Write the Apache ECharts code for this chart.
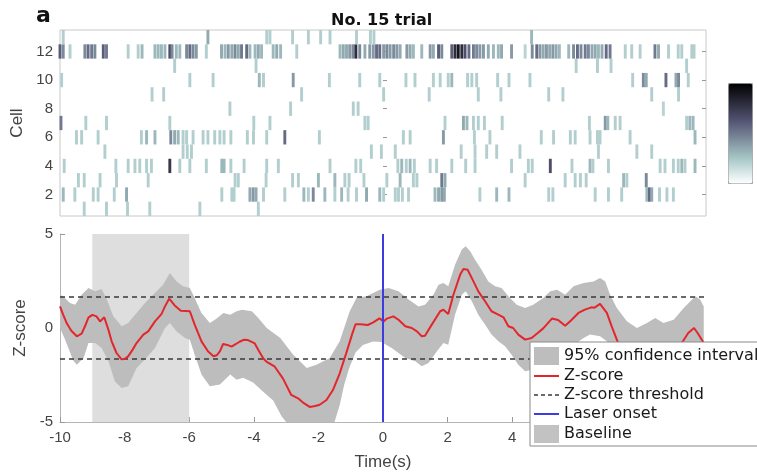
<!DOCTYPE html>
<html><head><meta charset="utf-8">
<script src="https://cdn.jsdelivr.net/npm/echarts@6/dist/echarts.min.js"></script>
<style>html,body{margin:0;padding:0;background:#fff}#c{width:757px;height:472px}</style>
</head><body><div id="c"></div>
<script>
// ---------- Raster (top panel): per cell, [time (s), normalised activity] ----------
const cell13 = [[-9.9,.22],[-5.42,.35],[-3.6,.22],[-3.5,.22],[-2.8,.22],[-2.31,.22],[-1.93,.22],[-1.64,.22],[-0.82,.22],[-0.39,.22],[-0.28,.22],[4.6,.3]];
const cell12 = [[-10.0,.6],[-9.9,.45],[-9.69,.22],[-9.23,.45],[-9.13,.55],[-9.02,.5],[-8.92,.45],[-8.66,.6],[-8.56,.5],
 [-7.89,.22],[-7.58,.22],[-7.46,.3],[-7.06,.3],[-6.96,.3],[-6.86,.3],[-6.75,.3],[-6.6,.65],[-6.53,.45],[-6.4,.3],[-6.29,.3],
 [-6.08,.45],[-5.98,.55],[-5.88,.45],[-5.78,.4],[-5.47,.22],[-5.0,.35],[-4.89,.3],[-4.79,.4],[-4.68,.35],[-4.58,.45],[-4.48,.35],
 [-4.38,.5],[-4.22,.55],[-4.12,.3],[-3.96,.3],[-3.86,.35],[-3.76,.3],[-3.4,.3],[-3.29,.35],[-3.17,.3],[-2.67,.22],
 [-1.33,.3],[-1.23,.35],[-1.13,.35],[-1.03,.4],[-0.93,.45],[-0.84,.8],[-0.72,.45],[-0.56,.35],[-0.41,.4],[-0.3,.4],[-0.2,.55],[-0.1,.55],
 [0.02,.4],[0.12,.45],[0.22,.4],[0.33,.45],[0.43,.4],[0.53,.35],[0.74,.4],[0.84,.35],[0.94,.3],[1.2,.3],[1.46,.4],[1.56,.35],
 [1.72,.6],[1.82,.45],[2.13,.6],[2.23,.8],[2.33,.9],[2.44,.8],[2.54,.65],[2.66,.55],[2.8,.5],[2.9,.45],[3.0,.4],[3.11,.4],
 [3.26,.35],[3.42,.3],[3.57,.3],[3.67,.35],[3.98,.4],[4.4,.2],[4.62,.45],[4.76,.55],[4.86,.4],
 [4.96,.35],[5.06,.4],[5.16,.35],[5.26,.4],[5.36,.35],[5.46,.3],[5.75,.3],[5.9,.45],[6.02,.55],[6.13,.45],[6.26,.5],[6.36,.45],
 [6.47,.35],[6.57,.35],[6.67,.3],[6.78,.35],[6.91,.55],[7.03,.5],[7.5,.22],[7.7,.22],[7.96,.22],[8.42,.5],[8.53,.35],[8.84,.22],
 [9.14,.22],[9.25,.22],[9.56,.22],[9.63,.22]];
const cell11 = [[-6.45,.22],[-3.93,.22],[5.98,.22],[6.64,.22],[7.06,.22],[9.4,.22]];
const cell10 = [[-9.95,.22],[-5.98,.22],[-5.26,.22],[-3.83,.3],[-3.7,.22],[-2.78,.4],[-1.66,.22],[-0.72,.22],[-0.1,.22],[0.71,.22],
 [0.99,.22],[1.56,.22],[1.77,.22],[2.02,.22],[2.13,.3],[2.62,.22],[2.75,.22],[2.9,.22],[3.55,.22],[3.9,.22],[4.55,.22],[7.73,.22],
 [8.06,.45],[8.15,.35],[8.76,.55],[9.07,.35],[9.15,.45],[9.45,.22]];
const cell9 = [[-7.15,.22],[-6.79,.22],[-2.52,.22],[0.02,.22],[1.43,.22],[2.95,.22],[3.65,.22],[5.13,.22],[5.57,.22],[8.32,.22],[9.15,.22]];
const cell8 = [[-4.74,.22],[-2.86,.22],[-0.92,.22],[-0.77,.22],[8.68,.2]];
const cell7 = [[-9.97,.5],[-9.2,.22],[-8.56,.22],[-6.6,.22],[-4.0,.22],[-3.5,.22],[-0.56,.22],[-0.46,.22],[1.92,.22],[2.49,.35],[2.6,.3],
 [2.8,.22],[2.95,.22],[3.14,.22],[3.69,.22],[6.39,.22],[6.88,.4],[6.96,.3],[7.19,.22],[7.34,.22],[9.4,.22],[9.5,.3],[9.6,.3]];
const cell6 = [[-9.49,.22],[-9.33,.22],[-8.82,.22],[-7.48,.22],[-7.32,.3],[-7.06,.3],[-6.57,.45],[-6.45,.35],[-6.34,.3],[-6.19,.22],
 [-6.08,.22],[-5.88,.22],[-5.57,.22],[-5.42,.22],[-5.21,.22],[-5.05,.22],[-4.92,.22],[-4.71,.22],[-4.2,.22],[-4.01,.22],[-3.6,.22],
 [-3.04,.55],[-1.97,.22],[0.63,.22],[0.84,.22],[1.87,.4],[2.83,.22],[3.31,.22],[4.9,.22],[5.28,.22],[5.8,.22],[5.95,.22],[6.41,.22],
 [6.64,.22],[6.72,.22],[7.65,.22],[9.66,.3]];
const cell5 = [[-8.61,.22],[-6.19,.22],[-6.06,.22],[-5.93,.22],[-0.36,.22],[-0.05,.22],[0.38,.22],[2.42,.22],[2.85,.22],[3.21,.22],
 [3.52,.22],[4.24,.22],[6.67,.22],[7.86,.22],[8.32,.22]];
const cell4 = [[-9.87,.22],[-8.27,.22],[-7.89,.22],[-7.68,.22],[-7.53,.22],[-7.32,.22],[-7.17,.22],[-6.6,.75],[-6.29,.22],[-5.98,.22],
 [-5.47,.22],[-4.99,.3],[-4.92,.3],[-4.71,.22],[-4.3,.22],[-3.6,.22],[-3.24,.22],[-1.64,.22],[-0.84,.22],[-0.69,.22],[0.46,.22],
 [0.58,.3],[0.72,.22],[0.84,.3],[0.97,.22],[1.46,.22],[1.66,.22],[2.13,.22],[2.56,.22],[2.85,.22],[3.98,.22],[4.5,.22],[4.62,.22],
 [5.18,.65],[5.85,.22],[6.41,.3],[6.5,.22],[6.98,.22],[8.58,.22],[8.73,.22],[8.99,.22],[9.14,.22],[9.25,.3],[9.35,.22],[9.66,.3]];
const cell3 = [[-9.43,.22],[-9.25,.22],[-8.76,.22],[-8.25,.22],[-7.27,.22],[-4.58,.22],[-4.48,.22],[-3.62,.22],[-2.8,.22],[-2.62,.22],
 [-2.0,.3],[-1.49,.3],[-1.18,.22],[-1.05,.22],[-0.59,.22],[0.12,.22],[0.53,.3],[0.94,.22],[1.05,.22],[1.82,.5],[1.92,.35],[4.4,.22],
 [5.64,.22],[5.95,.22],[6.11,.22],[6.29,.22],[7.45,.3],[7.55,.22],[8.15,.45]];
const cell2 = [[-9.9,.3],[-9.54,.22],[-8.97,.22],[-8.82,.22],[-8.32,.22],[-7.94,.35],[-4.99,.22],[-4.68,.22],[-4.61,.22],[-4.12,.35],
 [-4.02,.4],[-3.93,.35],[-3.7,.22],[-3.04,.22],[-2.45,.3],[-2.31,.22],[-2.16,.45],[-1.8,.3],[-1.49,.22],[-1.28,.3],[-1.08,.22],
 [-0.82,.22],[-0.51,.35],[-0.1,.3],[0.02,.22],[0.38,.22],[0.48,.22],[0.6,.22],[0.79,.22],[1.61,.3],[1.72,.35],[1.82,.4],[1.9,.35],
 [3.0,.22],[3.52,.3],[3.9,.3],[5.13,.22],[5.26,.22],[6.57,.22],[6.98,.22],[7.39,.22],[8.17,.3],[8.25,.55],[8.32,.35],[8.56,.22],
 [8.79,.22],[8.99,.22]];
const cell1 = [[-9.25,.22],[-8.56,.22],[-7.91,.22],[-7.22,.22],[-5.67,.22],[-3.86,.22]];
const cellRows = [cell1, cell2, cell3, cell4, cell5, cell6, cell7, cell8, cell9, cell10, cell11, cell12, cell13];
const cellTicks = [2, 4, 6, 8, 10, 12];

// ---------- Z-score panel ----------
const zScore = [[-10,1.15],[-9.9,0.7],[-9.79,0.25],[-9.65,-0.15],[-9.48,-0.44],[-9.33,-0.3],[-9.2,0.2],[-9.12,0.55],[-9.0,0.7],
 [-8.87,0.62],[-8.76,0.35],[-8.63,0.57],[-8.5,-0.1],[-8.4,-0.71],[-8.25,-1.33],[-8.1,-1.66],[-8.0,-1.65],[-7.89,-1.51],[-7.75,-1.15],
 [-7.63,-0.8],[-7.42,-0.35],[-7.27,-0.18],[-7.06,0.35],[-6.86,0.74],[-6.75,1.15],[-6.62,1.56],[-6.45,1.2],[-6.26,0.92],[-5.98,0.89],
 [-5.83,0.18],[-5.62,-0.71],[-5.42,-1.24],[-5.25,-1.5],[-5.15,-1.45],[-5.05,-1.24],[-4.95,-0.85],[-4.82,-0.9],[-4.69,-0.99],
 [-4.55,-0.85],[-4.44,-0.73],[-4.3,-0.62],[-4.18,-0.64],[-3.97,-0.82],[-3.85,-1.2],[-3.71,-1.61],[-3.61,-1.79],[-3.35,-2.06],
 [-3.1,-2.68],[-2.84,-3.56],[-2.63,-3.74],[-2.45,-4.0],[-2.27,-4.2],[-2.1,-4.15],[-1.96,-4.08],[-1.75,-3.83],[-1.55,-3.3],
 [-1.34,-2.41],[-1.14,-1.35],[-0.95,-0.3],[-0.85,0.2],[-0.7,0.2],[-0.47,0.16],[-0.3,0.3],[-0.11,0.51],[0.02,0.35],[0.12,0.5],
 [0.32,0.62],[0.48,0.44],[0.69,0.09],[0.89,0.0],[1.05,-0.18],[1.2,-0.44],[1.3,-0.41],[1.51,0.18],[1.77,0.89],[1.87,0.97],
 [2.02,0.74],[2.18,1.77],[2.39,2.84],[2.49,3.14],[2.62,3.1],[2.8,2.48],[2.95,1.95],[3.16,1.42],[3.36,0.89],[3.57,0.71],[3.73,0.57],
 [3.88,0.09],[4.03,0.0],[4.19,-0.35],[4.4,-0.62],[4.6,-0.53],[4.8,-0.25],[4.96,-0.02],[5.23,0.5],[5.42,0.43],[5.64,0.12],[5.82,0.4],
 [6.05,0.8],[6.25,0.98],[6.45,1.1],[6.55,1.08],[6.72,1.28],[6.93,0.8],[7.08,0.09],[7.29,-0.85],[7.5,-1.35],[8.0,-1.6],[8.5,-1.45],
 [9.0,-1.3],[9.25,-0.8],[9.45,-0.27],[9.63,0.0],[9.76,-0.32],[9.93,-0.8]];
const ciUpper = [[-10,1.8],[-9.85,1.6],[-9.69,1.33],[-9.53,1.24],[-9.33,1.77],[-9.12,2.13],[-8.91,1.95],[-8.71,2.07],[-8.55,1.51],
 [-8.35,0.62],[-8.09,0.09],[-7.89,0.27],[-7.63,0.8],[-7.37,1.33],[-7.06,1.86],[-6.81,2.3],[-6.6,2.93],[-6.39,2.48],[-6.19,2.22],
 [-5.98,2.13],[-5.83,1.6],[-5.62,0.8],[-5.36,0.27],[-5.15,0.5],[-4.94,0.8],[-4.73,0.71],[-4.53,0.89],[-4.37,0.97],[-4.06,0.89],
 [-3.86,0.53],[-3.6,0.0],[-3.18,-0.53],[-2.78,-1.42],[-2.36,-2.13],[-2.06,-1.95],[-1.65,-1.6],[-1.34,-0.71],[-1.03,0.89],[-0.82,1.6],
 [-0.51,1.69],[-0.1,2.04],[0.17,2.13],[0.48,1.95],[0.79,1.51],[1.1,1.15],[1.3,1.24],[1.56,1.77],[1.72,2.3],[1.87,2.39],[2.02,2.22],
 [2.23,3.37],[2.44,4.17],[2.56,4.35],[2.7,4.08],[2.85,3.63],[3.05,3.1],[3.26,2.48],[3.47,2.22],[3.67,2.13],[3.88,1.69],[4.14,1.24],
 [4.4,1.06],[4.65,1.24],[4.96,1.6],[5.18,1.95],[5.39,2.04],[5.64,1.77],[5.9,2.22],[6.21,2.39],[6.52,2.48],[6.72,2.66],[6.88,2.48],
 [7.03,1.77],[7.24,1.06],[7.55,0.36],[7.86,0.0],[8.17,0.27],[8.43,0.53],[8.68,0.27],[9.0,0.44],[9.31,1.06],[9.67,1.69],[9.82,1.51],
 [9.93,1.15]];
const ciLower = [[-10,0.0],[-9.87,-0.5],[-9.74,-1.06],[-9.6,-1.7],[-9.48,-1.95],[-9.27,-1.6],[-9.12,-0.8],[-8.91,-0.8],[-8.71,-1.06],
 [-8.5,-1.77],[-8.3,-2.84],[-8.09,-3.19],[-7.89,-3.1],[-7.63,-2.13],[-7.37,-1.68],[-7.06,-1.06],[-6.75,0.0],[-6.6,0.27],[-6.39,-0.18],
 [-6.13,-0.53],[-5.98,-0.62],[-5.83,-1.42],[-5.62,-2.48],[-5.36,-3.1],[-5.05,-3.0],[-4.73,-2.48],[-4.53,-2.75],[-4.33,-2.65],
 [-4.02,-2.9],[-3.71,-3.39],[-3.4,-3.85],[-3.14,-4.7],[-2.95,-5.1],[-2.6,-5.6],[-2.2,-5.9],[-1.8,-5.6],[-1.5,-5.0],[-1.34,-4.1],
 [-1.2,-3.0],[-1.04,-2.1],[-0.85,-1.3],[-0.62,-0.9],[-0.31,-0.72],[-0.05,-0.75],[0.27,-1.06],[0.69,-1.6],[1.0,-1.77],[1.2,-2.04],
 [1.41,-1.86],[1.67,-1.24],[1.87,-0.8],[2.02,-0.89],[2.23,0.71],[2.44,1.77],[2.56,1.95],[2.75,1.42],[2.95,0.71],[3.16,0.18],
 [3.36,-0.35],[3.57,-0.71],[3.78,-0.97],[3.98,-1.42],[4.19,-1.95],[4.4,-2.3],[4.7,-2.2],[5.0,-1.5],[5.5,-1.2],[5.9,-0.9],[6.21,-0.53],
 [6.41,-0.35],[6.72,-0.44],[6.93,-0.71],[7.15,-1.5],[7.4,-2.4],[8.0,-3.0],[8.5,-2.9],[9.0,-2.4],[9.4,-1.9],[9.7,-1.4],[9.93,-1.8]];
const zThreshold = [1.65, -1.65];
const baselineWindow = [-9, -6];
const laserOnset = 0;
const timeRange = [-10, 10];
const zRange = [-5, 5];

// colour map (reversed "bone")
const boneRev = ['#ffffff','#d3e3e3','#a7c7c7','#8ba1ab','#707a8f','#545474','#38384d','#1c1c27','#000000'];

const rasterData = [];
cellRows.forEach((row, i) => row.forEach(s => rasterData.push([s[0], i + 1, s[1]])));

const FONT = 'Liberation Sans, Arial, sans-serif';
const noSymbol = {color: 'rgba(0,0,0,0)', borderWidth: 0, opacity: 0};
const chart = echarts.init(document.getElementById('c'));
chart.setOption({
  animation: false,
  backgroundColor: '#fff',
  title: [
    {text: 'a', left: 31, top: 0, textStyle: {fontSize: 22, fontWeight: 'bold', color: '#111', fontFamily: 'DejaVu Sans'}},
    {text: 'No. 15 trial', left: 326, top: 8, textStyle: {fontSize: 16, fontWeight: 'bold', color: '#111', fontFamily: 'DejaVu Sans'}}
  ],
  grid: [
    {left: 60, top: 30, width: 646, height: 186, show: true, borderColor: '#c8c8c8', borderWidth: 1, backgroundColor: 'transparent'},
    {left: 60, top: 234, width: 646, height: 188}
  ],
  xAxis: [
    {gridIndex: 0, type: 'value', min: timeRange[0], max: timeRange[1], axisLine: {show: false}, axisTick: {show: false}, axisLabel: {show: false}, splitLine: {show: false}},
    {gridIndex: 1, type: 'value', min: timeRange[0], max: timeRange[1], interval: 2,
     axisLine: {show: true, onZero: false, lineStyle: {color: '#b5b5b5'}},
     axisTick: {inside: true, length: 5, lineStyle: {color: '#999'}},
     axisLabel: {margin: 8, fontSize: 15, color: '#444', fontFamily: FONT},
     splitLine: {show: false},
     name: 'Time(s)', nameLocation: 'middle', nameGap: 32, nameTextStyle: {fontSize: 17, color: '#444', fontFamily: FONT}}
  ],
  yAxis: [
    {gridIndex: 0, type: 'value', min: 0.5, max: 13.5, axisLine: {show: false},
     axisTick: {inside: true, length: 4, customValues: cellTicks, lineStyle: {color: '#999'}},
     axisLabel: {customValues: cellTicks, margin: 7, fontSize: 15, color: '#444', fontFamily: FONT},
     splitLine: {show: false},
     name: 'Cell', nameLocation: 'middle', nameGap: 31, nameTextStyle: {fontSize: 17, color: '#444', fontFamily: FONT}},
    {gridIndex: 0, type: 'value', position: 'right', min: 0.5, max: 13.5, axisLine: {show: false},
     axisTick: {inside: true, length: 4, customValues: cellTicks, lineStyle: {color: '#999'}},
     axisLabel: {show: false}, splitLine: {show: false}},
    {gridIndex: 1, type: 'value', min: zRange[0], max: zRange[1], interval: 5,
     axisLine: {show: true, onZero: false, lineStyle: {color: '#b5b5b5'}},
     axisTick: {inside: true, length: 5, lineStyle: {color: '#999'}},
     axisLabel: {margin: 7, fontSize: 15, color: '#444', fontFamily: FONT},
     splitLine: {show: false},
     name: 'Z-score', nameLocation: 'middle', nameGap: 27, nameTextStyle: {fontSize: 17, color: '#444', fontFamily: FONT}}
  ],
  visualMap: {
    type: 'continuous', seriesIndex: 0, dimension: 2, min: 0, max: 1,
    inRange: {color: boneRev}, calculable: false, hoverLink: false,
    left: 728, top: 83, itemWidth: 24, itemHeight: 100, padding: 0,
    borderColor: '#a0a0a0', borderWidth: 1, text: null, showLabel: false
  },
  legend: {
    z: 20,
    orient: 'vertical', left: 530, top: 342, itemWidth: 25, itemHeight: 18, itemGap: 3,
    padding: [5, 30, 3, 3], backgroundColor: '#fff', borderColor: '#8a8a8a', borderWidth: 1,
    selectedMode: false,
    textStyle: {fontSize: 16, fontFamily: 'DejaVu Sans', color: '#1a1a1a'},
    data: [
      {name: '95% confidence interval', icon: 'rect', itemStyle: {color: '#bdbdbd'}},
      {name: 'Z-score', itemStyle: noSymbol, lineStyle: {color: '#e3262b', width: 2}},
      {name: 'Z-score threshold', itemStyle: noSymbol, lineStyle: {color: '#3a3a3a', width: 1.4, type: [4, 3]}},
      {name: 'Laser onset', itemStyle: noSymbol, lineStyle: {color: '#3c3ce0', width: 2}},
      {name: 'Baseline', icon: 'rect', itemStyle: {color: '#c2c2c2'}}
    ]
  },
  series: [
    {
      type: 'custom', name: 'raster', xAxisIndex: 0, yAxisIndex: 0, data: rasterData, silent: true,
      encode: {x: 0, y: 1},
      renderItem: function (params, api) {
        const t = api.value(0), r = api.value(1);
        const p1 = api.coord([t - 0.045, r + 0.5]);
        const p2 = api.coord([t + 0.045, r - 0.5]);
        return {type: 'rect', shape: {x: p1[0], y: p1[1], width: p2[0] - p1[0], height: p2[1] - p1[1]},
                style: {fill: api.visual('color')}};
      }
    },
    {
      type: 'line', name: 'Baseline', xAxisIndex: 1, yAxisIndex: 2, z: 1, silent: true,
      data: baselineWindow.map(t => [t, zRange[1]]), symbol: 'none',
      itemStyle: {color: '#c2c2c2'},
      lineStyle: {width: 0, color: '#dedede'},
      areaStyle: {color: '#dedede', opacity: 1, origin: 'start'}
    },
    {
      type: 'custom', name: '95% confidence interval', xAxisIndex: 1, yAxisIndex: 2, z: 2, silent: true,
      data: [[0, 0]], itemStyle: {color: '#bdbdbd'},
      renderItem: function (params, api) {
        if (params.dataIndex !== 0) return null;
        const pts = ciUpper.map(p => api.coord(p)).concat(ciLower.slice().reverse().map(p => api.coord(p)));
        const cs = params.coordSys;
        return {type: 'polygon', shape: {points: pts}, style: {fill: '#bdbdbd'},
                clipPath: {type: 'rect', shape: {x: cs.x, y: cs.y, width: cs.width, height: cs.height}}};
      }
    },
    {
      type: 'line', name: 'Z-score threshold', xAxisIndex: 1, yAxisIndex: 2, z: 3, silent: true, symbol: 'none',
      data: timeRange.map(t => [t, zThreshold[0]]),
      itemStyle: {color: '#3a3a3a'}, lineStyle: {color: '#3a3a3a', width: 1.4, type: [5, 4]}
    },
    {
      type: 'line', name: 'Z-score threshold', xAxisIndex: 1, yAxisIndex: 2, z: 3, silent: true, symbol: 'none',
      data: timeRange.map(t => [t, zThreshold[1]]),
      itemStyle: {color: '#3a3a3a'}, lineStyle: {color: '#3a3a3a', width: 1.4, type: [5, 4]}
    },
    {
      type: 'line', name: 'Z-score', xAxisIndex: 1, yAxisIndex: 2, z: 4, silent: true, symbol: 'none',
      data: zScore, itemStyle: {color: '#e3262b'}, lineStyle: {color: '#e3262b', width: 2}
    },
    {
      type: 'line', name: 'Laser onset', xAxisIndex: 1, yAxisIndex: 2, z: 5, silent: true, symbol: 'none',
      data: zRange.map(v => [laserOnset, v]), itemStyle: {color: '#3c3ce0'}, lineStyle: {color: '#3c3ce0', width: 2}
    }
  ]
});
</script></body></html>
